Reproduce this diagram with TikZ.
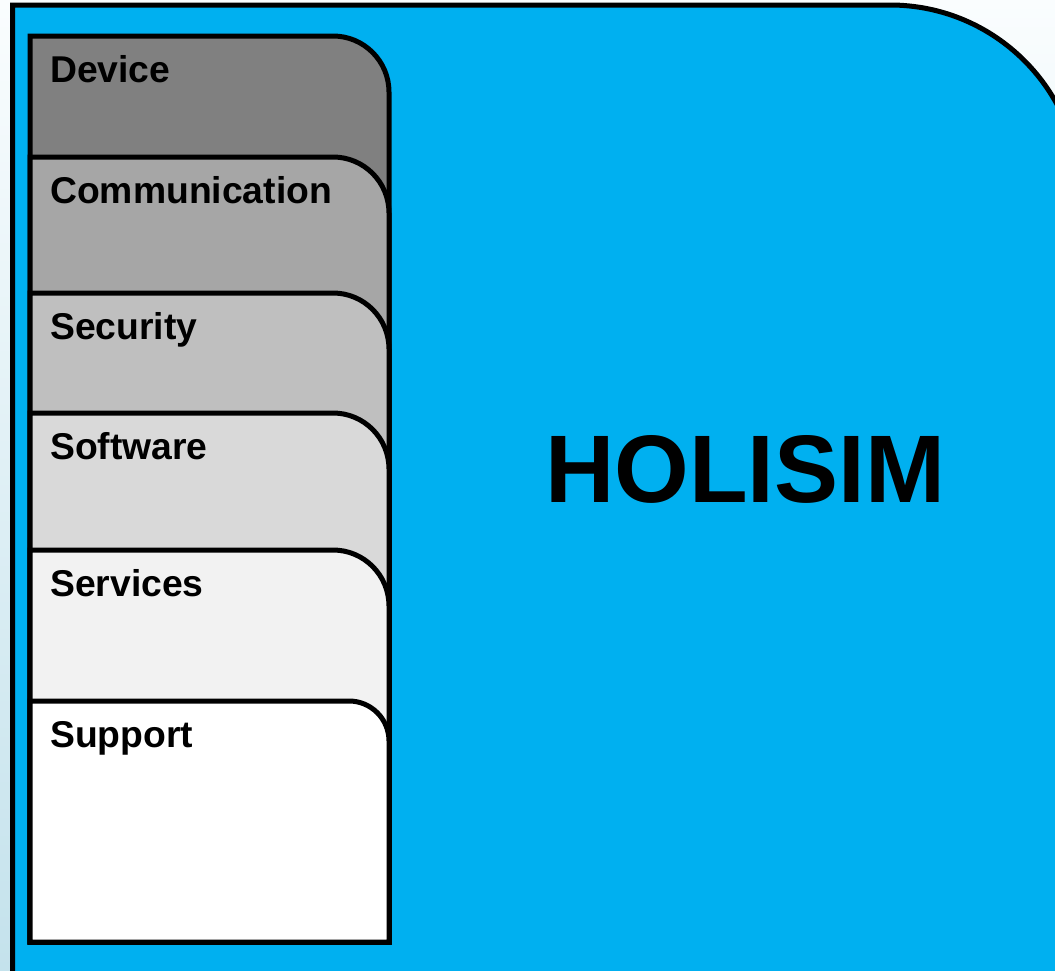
\documentclass[tikz,border=0pt]{standalone}
\usepackage{fontspec}
\setmainfont{Liberation Sans}
\usepackage{xcolor}
\definecolor{holiblue}{RGB}{0,176,240}
\definecolor{skytop}{RGB}{250,253,254}
\definecolor{skybottom}{RGB}{196,226,236}
\definecolor{devicegray}{RGB}{128,128,128}
\definecolor{commgray}{RGB}{166,166,166}
\definecolor{secgray}{RGB}{191,191,191}
\definecolor{softgray}{RGB}{217,217,217}
\definecolor{servgray}{RGB}{242,242,242}

\begin{document}
\begin{tikzpicture}[x=1pt, y=1pt,
    layer/.style={draw=black, line width=5pt},
    lbl/.style={anchor=base west, inner sep=0pt, font=\fontsize{37.3}{40}\selectfont\bfseries}]
    \useasboundingbox (0,0) rectangle (1055,-970);
    \clip (0,0) rectangle (1055,-970);

    % Background and the big HOLISIM panel
    \shade[top color=skytop, bottom color=skybottom] (0,0) rectangle (1055,-970);
    \draw[layer, fill=holiblue] (12.5,-1010) -- (12.5,-5) -- (890,-5)
        arc[start angle=90, end angle=0, radius=190pt] -- (1080,-1010);
    \node[font=\fontsize{96}{100}\selectfont\bfseries, anchor=base] (holisim) at (745,-502) {HOLISIM};

    % Layer stack, drawn from top to bottom so each one covers the last
    \draw[layer, fill=devicegray] (30,-942) -- (30,-36) -- (333,-36)
        arc[start angle=90, end angle=0, radius=56pt] -- (389,-942) -- cycle;
    \node[lbl] (device) at (50,-82) {Device};

    \draw[layer, fill=commgray] (30,-942) -- (30,-157) -- (333,-157)
        arc[start angle=90, end angle=0, radius=56pt] -- (389,-942) -- cycle;
    \node[lbl] (comm) at (50,-203) {Communication};

    \draw[layer, fill=secgray] (30,-942) -- (30,-293) -- (333,-293)
        arc[start angle=90, end angle=0, radius=56pt] -- (389,-942) -- cycle;
    \node[lbl] (security) at (50,-339) {Security};

    \draw[layer, fill=softgray] (30,-942) -- (30,-413) -- (333,-413)
        arc[start angle=90, end angle=0, radius=56pt] -- (389,-942) -- cycle;
    \node[lbl] (software) at (50,-459) {Software};

    \draw[layer, fill=servgray] (30,-942) -- (30,-550) -- (333,-550)
        arc[start angle=90, end angle=0, radius=56pt] -- (389,-942) -- cycle;
    \node[lbl] (services) at (50,-596) {Services};

    \draw[layer, fill=white] (30,-942) -- (30,-701) -- (349,-701)
        arc[start angle=90, end angle=0, radius=40pt] -- (389,-942) -- cycle;
    \node[lbl] (support) at (50,-747) {Support};
\end{tikzpicture}
\end{document}
